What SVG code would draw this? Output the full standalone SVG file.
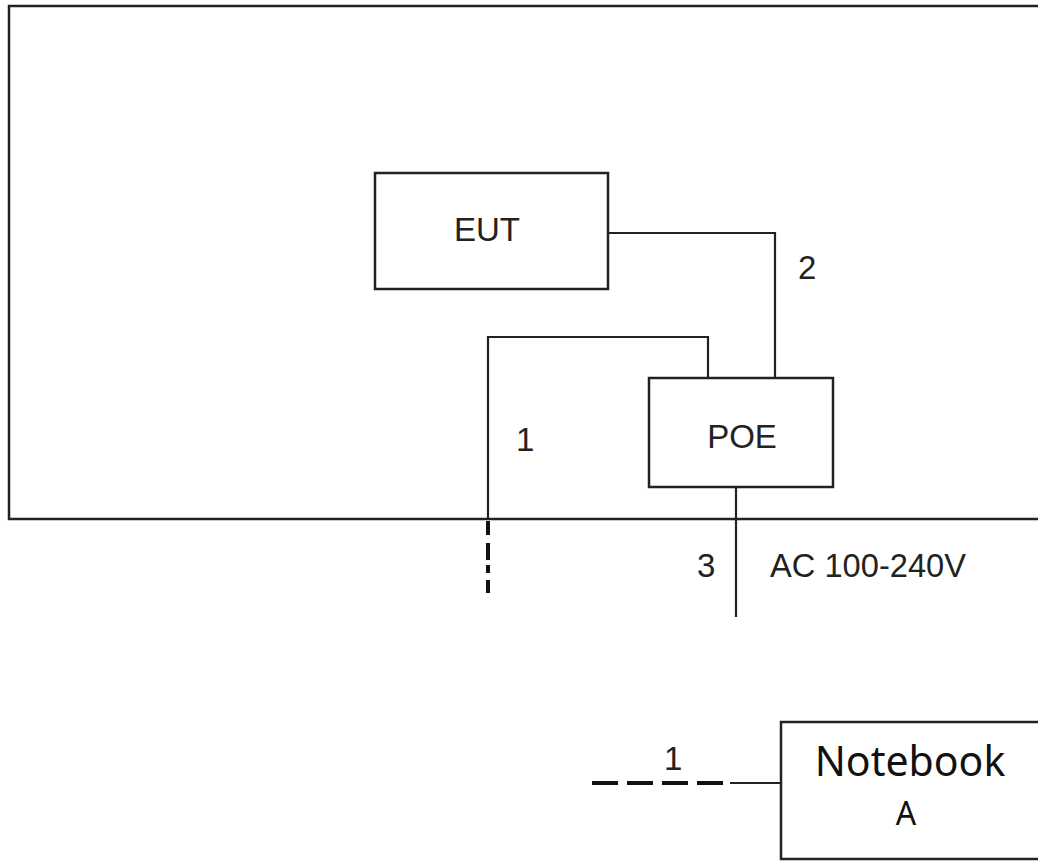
<svg xmlns="http://www.w3.org/2000/svg" width="1038" height="862" viewBox="0 0 1038 862">
<style>
.box{fill:#fff;stroke:#222;stroke-width:2.5}
.ln{fill:none;stroke:#222;stroke-width:2.2}
.dash{fill:none;stroke:#111;stroke-width:4}
.t{font-family:"Liberation Sans",Arial,sans-serif;font-size:33px;fill:#222}
.nb{font-family:"Noto Sans","Open Sans",sans-serif;fill:#111}
</style>
<rect width="1038" height="862" fill="#fff"/>
<g id="room">
<rect class="box" x="9" y="6" width="1040" height="513"/>
</g>
<g id="connectors">
<polyline class="ln" points="608,233 775,233 775,378"/>
<polyline class="ln" points="488,519 488,337 708,337 708,378"/>
<line class="dash" x1="488" y1="521" x2="488" y2="594" stroke-dasharray="14,8,17,5,8,7,13"/>
<line class="ln" x1="736" y1="487" x2="736" y2="617"/>
<line class="dash" x1="592" y1="783" x2="731" y2="783" stroke-dasharray="26,9"/>
<line class="ln" x1="730" y1="783" x2="781" y2="783"/>
<text class="t" x="516" y="451">1</text>
<text class="t" x="798" y="279">2</text>
<text class="t" x="697" y="577">3</text>
<text class="t" x="770" y="577" textLength="196" lengthAdjust="spacingAndGlyphs">AC 100-240V</text>
<text class="t" x="664" y="770">1</text>
</g>
<g id="eut">
<rect class="box" x="375" y="173" width="233" height="116"/>
<text class="t" x="487" y="241" text-anchor="middle">EUT</text>
</g>
<g id="poe">
<rect class="box" x="649" y="378" width="184" height="109"/>
<text class="t" x="742" y="448" text-anchor="middle">POE</text>
</g>
<g id="notebook">
<rect class="box" x="781" y="722" width="270" height="137"/>
<text class="nb" x="910" y="776" font-size="41" text-anchor="middle">Notebook</text>
<text class="nb" x="906" y="825" font-size="32" text-anchor="middle">A</text>
</g>
</svg>
